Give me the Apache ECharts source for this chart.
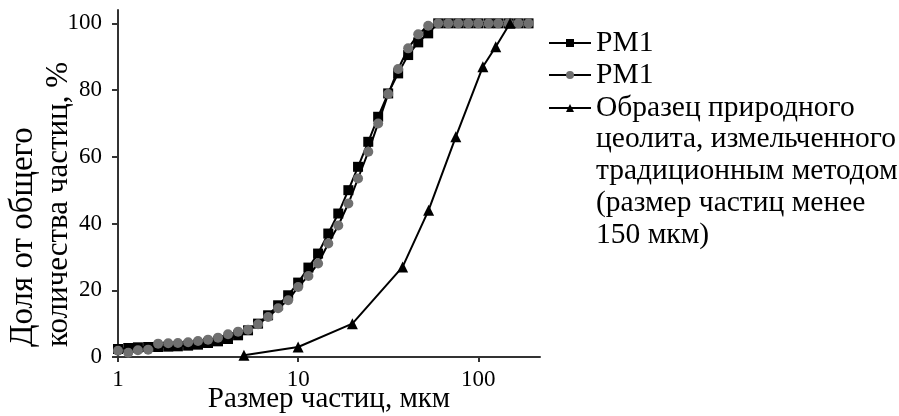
<!DOCTYPE html>
<html>
<head>
<meta charset="utf-8">
<script src="https://cdn.jsdelivr.net/npm/echarts@6/dist/echarts.min.js"></script>
<style>
  html, body { margin: 0; padding: 0; background: #fff; }
  #chart { width: 899px; height: 416px; }
</style>
</head>
<body>
<div id="chart"></div>
<script>
// Particle size classes, µm (laser diffraction grid)
const sizes = [1, 1.14, 1.29, 1.47, 1.67, 1.9, 2.15, 2.45, 2.78, 3.16, 3.59, 4.08, 4.64, 5.27,
  5.99, 6.81, 7.74, 8.8, 10, 11.4, 12.9, 14.7, 16.7, 19, 21.5, 24.5, 27.8, 31.6, 35.9, 40.8,
  46.4, 52.7, 59.9, 68.1, 77.4, 88, 100, 114, 129, 147, 167, 190];

// Cumulative share of particles, %
const pm1A = [2.4, 2.7, 2.9, 3.0, 3.0, 3.1, 3.2, 3.4, 3.7, 4.2, 4.7, 5.4, 6.5, 8.0,
  10.0, 12.5, 15.5, 18.5, 22.3, 26.8, 31, 37, 43, 50, 57, 64.5, 72, 79, 85, 90.5,
  94.3, 97, 100, 100, 100, 100, 100, 100, 100, 100, 100, 100];

const pm1B = [1.9, 1.3, 2.0, 2.2, 4.0, 4.1, 4.2, 4.4, 4.8, 5.2, 5.8, 6.8, 7.6, 8.2,
  9.8, 12, 14.6, 17, 21, 24.3, 28, 34, 39.4, 46, 53.5, 61.5, 70, 78.8, 86.3, 92.5,
  96.7, 99.3, 100, 100, 100, 100, 100, 100, 100, 100, 100, 100];

// Conventionally milled natural zeolite (sieve sizes, µm)
const zeoliteSizes = [5, 10, 20, 38, 53, 75, 106, 125, 150];
const zeoliteValues = [0.5, 3, 10, 27, 44, 66, 87, 93, 100];

const xTicks = [1, 10, 100];
const yTicks = [0, 20, 40, 60, 80, 100];

const seriesNames = ['PM1 (1)', 'PM1 (2)', 'zeolite'];
const legendLabels = {
  'PM1 (1)': 'PM1',
  'PM1 (2)': 'PM1',
  'zeolite': 'Образец природного\nцеолита, измельченного\nтрадиционным методом\n(размер частиц менее\n150 мкм)'
};
const yTitleLines = ['Доля от общего', 'количества частиц, %'];
const xTitle = 'Размер частиц, мкм';

const FONT = '"Liberation Serif", "Times New Roman", serif';
const LH = 31.7;
const LEGEND_FONT = 29.5;

function pairs(xs, ys) { return xs.map((x, i) => [x, ys[i]]); }

// Legend text is centred on its icon; blank lines above a multi-line label
// keep the first line level with the icon and let the rest run downwards.
function topAligned(text) {
  const n = text.split('\n').length;
  return '\n'.repeat(n - 1) + text;
}

function legendFor(name, top) {
  return {
    data: [name],
    orient: 'vertical',
    left: 548,
    top: top,
    padding: 0,
    itemWidth: 42,
    itemHeight: 10,
    selectedMode: false,
    formatter: n => topAligned(legendLabels[n]),
    textStyle: { fontFamily: FONT, fontSize: LEGEND_FONT, color: '#000', lineHeight: LH }
  };
}

const chart = echarts.init(document.getElementById('chart'), null, { renderer: 'canvas' });

chart.setOption({
  animation: false,
  backgroundColor: '#fff',
  grid: { left: 118, right: 359, top: 10, bottom: 59, containLabel: false, outerBoundsMode: 'none' },
  xAxis: {
    type: 'log',
    logBase: 10,
    min: 1,
    max: 220,
    name: xTitle,
    nameLocation: 'middle',
    nameGap: 28,
    nameMoveOverlap: false,
    nameTextStyle: { fontFamily: FONT, fontSize: 29, color: '#000' },
    axisLine: { show: true, lineStyle: { color: '#333', width: 2 } },
    axisTick: { show: true, length: 5, customValues: xTicks, lineStyle: { color: '#333', width: 2 } },
    axisLabel: { customValues: xTicks, margin: 11, fontFamily: FONT, fontSize: 23, color: '#000' },
    splitLine: { show: false },
    minorTick: { show: false }
  },
  yAxis: {
    type: 'value',
    min: 0,
    max: 104,
    axisLine: { show: true, lineStyle: { color: '#333', width: 2 } },
    axisTick: { show: true, length: 6, customValues: yTicks, lineStyle: { color: '#333', width: 2 } },
    axisLabel: { customValues: yTicks, margin: 16, fontFamily: FONT, fontSize: 23, color: '#000' },
    splitLine: { show: false }
  },
  legend: [
    legendFor(seriesNames[0], 38 - LH / 2 + 5),
    legendFor(seriesNames[1], 70 - LH / 2 + 5),
    legendFor(seriesNames[2], 103 - (9 * LH) / 2 + 5)
  ],
  graphic: [
    {
      type: 'text', x: 23, y: 347, rotation: Math.PI / 2,
      style: { text: yTitleLines[0], font: '33px ' + FONT, fill: '#000', align: 'left', verticalAlign: 'middle' }
    },
    {
      type: 'text', x: 59, y: 347, rotation: Math.PI / 2,
      style: { text: yTitleLines[1], font: '31px ' + FONT, fill: '#000', align: 'left', verticalAlign: 'middle' }
    }
  ],
  series: [
    {
      name: seriesNames[0], type: 'line', data: pairs(sizes, pm1A),
      symbol: 'rect', symbolSize: 10, showAllSymbol: true,
      lineStyle: { color: '#000', width: 2 },
      itemStyle: { color: '#000' },
      emphasis: { disabled: true }, z: 2
    },
    {
      name: seriesNames[1], type: 'line', data: pairs(sizes, pm1B),
      symbol: 'circle', symbolSize: 10, showAllSymbol: true,
      lineStyle: { color: '#000', width: 2 },
      itemStyle: { color: '#707070' },
      emphasis: { disabled: true }, z: 3
    },
    {
      name: seriesNames[2], type: 'line', data: pairs(zeoliteSizes, zeoliteValues),
      symbol: 'triangle', symbolSize: 11, showAllSymbol: true,
      lineStyle: { color: '#000', width: 2 },
      itemStyle: { color: '#000' },
      emphasis: { disabled: true }, z: 4
    }
  ]
});
</script>
</body>
</html>
